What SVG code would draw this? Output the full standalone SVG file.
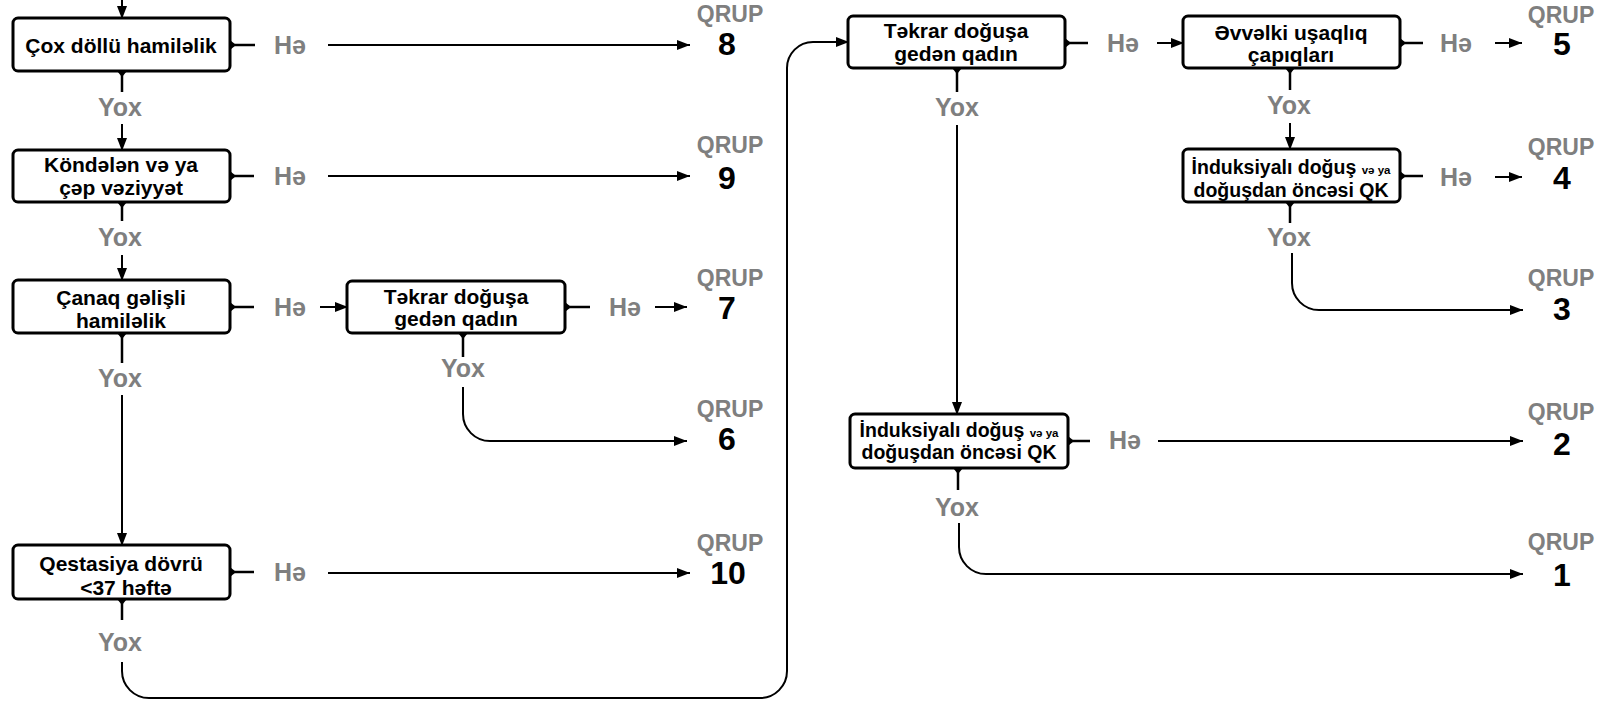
<svg xmlns="http://www.w3.org/2000/svg" width="1617" height="701" viewBox="0 0 1617 701">
<style>
.box{fill:#fff;stroke:#000;stroke-width:3}
.bt{font-family:"Liberation Sans",Arial,sans-serif;font-weight:bold;font-size:21px;fill:#000;text-anchor:middle}
.bi{font-size:19.5px}
.sm{font-size:11.5px}
.lbl{font-family:"Liberation Sans",Arial,sans-serif;font-weight:bold;font-size:25px;fill:#7f7f7f;text-anchor:middle}
.qr{font-family:"Liberation Sans",Arial,sans-serif;font-weight:bold;font-size:23px;fill:#7f7f7f;text-anchor:middle}
.num{font-family:"Liberation Sans",Arial,sans-serif;font-weight:bold;font-size:32px;fill:#000;text-anchor:middle}
.c{fill:none;stroke:#000;stroke-width:2}
.s{fill:none;stroke:#000;stroke-width:2.5}
</style>
<defs>
<marker id="ah" markerUnits="userSpaceOnUse" viewBox="0 0 13 10" refX="13" refY="5" markerWidth="13" markerHeight="10" orient="auto"><path d="M0,0 L13,5 L0,10 z" fill="#000"/></marker>
<marker id="tab" markerUnits="userSpaceOnUse" viewBox="0 0 6 10" refX="0" refY="5" markerWidth="6" markerHeight="10" orient="auto"><path d="M0,0 L6,5 L0,10 z" fill="#000"/></marker>
</defs>

<g id="connectors">
<line class="c" x1="122" y1="0" x2="122" y2="19" marker-end="url(#ah)"/>
<line class="s" x1="122" y1="71" x2="122" y2="92" marker-start="url(#tab)"/>
<line class="c" x1="122" y1="124" x2="122" y2="151" marker-end="url(#ah)"/>
<line class="s" x1="230" y1="45" x2="255" y2="45" marker-start="url(#tab)"/>
<line class="c" x1="328" y1="45" x2="690" y2="45" marker-end="url(#ah)"/>
<line class="s" x1="230" y1="176" x2="254" y2="176" marker-start="url(#tab)"/>
<line class="c" x1="328" y1="176" x2="690" y2="176" marker-end="url(#ah)"/>
<line class="s" x1="122" y1="202" x2="122" y2="221" marker-start="url(#tab)"/>
<line class="c" x1="122" y1="255" x2="122" y2="281" marker-end="url(#ah)"/>
<line class="s" x1="230" y1="307" x2="254" y2="307" marker-start="url(#tab)"/>
<line class="c" x1="320" y1="307" x2="348" y2="307" marker-end="url(#ah)"/>
<line class="s" x1="122" y1="333" x2="122" y2="363" marker-start="url(#tab)"/>
<line class="c" x1="122" y1="395" x2="122" y2="546" marker-end="url(#ah)"/>
<line class="s" x1="565" y1="307" x2="590" y2="307" marker-start="url(#tab)"/>
<line class="c" x1="655" y1="307" x2="687" y2="307" marker-end="url(#ah)"/>
<line class="s" x1="463" y1="333" x2="463" y2="357" marker-start="url(#tab)"/>
<path class="c" d="M463,387 V414 A27,27 0 0 0 490,441 H687" marker-end="url(#ah)"/>
<line class="s" x1="230" y1="572" x2="254" y2="572" marker-start="url(#tab)"/>
<line class="c" x1="328" y1="573" x2="690" y2="573" marker-end="url(#ah)"/>
<line class="s" x1="122" y1="599" x2="122" y2="620" marker-start="url(#tab)"/>
<path class="c" d="M122,662 V671 A27,27 0 0 0 149,698 H760 A27,27 0 0 0 787,671 V68 A26,26 0 0 1 813,42 H849" marker-end="url(#ah)"/>
<line class="s" x1="1065" y1="43" x2="1088" y2="43" marker-start="url(#tab)"/>
<line class="c" x1="1157" y1="43" x2="1184" y2="43" marker-end="url(#ah)"/>
<line class="s" x1="957" y1="68" x2="957" y2="92" marker-start="url(#tab)"/>
<line class="c" x1="957" y1="125" x2="957" y2="415" marker-end="url(#ah)"/>
<line class="s" x1="1400" y1="43" x2="1423" y2="43" marker-start="url(#tab)"/>
<line class="c" x1="1495" y1="43" x2="1522" y2="43" marker-end="url(#ah)"/>
<line class="s" x1="1290" y1="68" x2="1290" y2="90" marker-start="url(#tab)"/>
<line class="c" x1="1290" y1="123" x2="1290" y2="150" marker-end="url(#ah)"/>
<line class="s" x1="1400" y1="176" x2="1423" y2="176" marker-start="url(#tab)"/>
<line class="c" x1="1495" y1="177" x2="1522" y2="177" marker-end="url(#ah)"/>
<line class="s" x1="1290" y1="202" x2="1290" y2="223" marker-start="url(#tab)"/>
<path class="c" d="M1292,253 V283 A27,27 0 0 0 1319,310 H1523" marker-end="url(#ah)"/>
<line class="s" x1="1068" y1="441" x2="1090" y2="441" marker-start="url(#tab)"/>
<line class="c" x1="1158" y1="441" x2="1523" y2="441" marker-end="url(#ah)"/>
<line class="s" x1="958" y1="468" x2="958" y2="490" marker-start="url(#tab)"/>
<path class="c" d="M959,523 V547 A27,27 0 0 0 986,574 H1523" marker-end="url(#ah)"/>
</g>

<g id="labels">
<text class="lbl" x="290" y="54">Hə</text>
<text class="lbl" x="120" y="116">Yox</text>
<text class="lbl" x="290" y="185">Hə</text>
<text class="lbl" x="120" y="246">Yox</text>
<text class="lbl" x="290" y="316">Hə</text>
<text class="lbl" x="120" y="387">Yox</text>
<text class="lbl" x="625" y="316">Hə</text>
<text class="lbl" x="463" y="377">Yox</text>
<text class="lbl" x="290" y="581">Hə</text>
<text class="lbl" x="120" y="651">Yox</text>
<text class="lbl" x="1123" y="52">Hə</text>
<text class="lbl" x="957" y="116">Yox</text>
<text class="lbl" x="1456" y="52">Hə</text>
<text class="lbl" x="1289" y="114">Yox</text>
<text class="lbl" x="1456" y="186">Hə</text>
<text class="lbl" x="1289" y="246">Yox</text>
<text class="lbl" x="1125" y="449">Hə</text>
<text class="lbl" x="957" y="516">Yox</text>
</g>

<g id="n1"><rect class="box" x="13" y="18" width="217" height="53" rx="5"/><text class="bt" x="121" y="52.5">Çox döllü hamiləlik</text></g>
<g id="n2"><rect class="box" x="13" y="150" width="217" height="52" rx="5"/><text class="bt" x="121" y="172">Köndələn və ya</text><text class="bt" x="121" y="195">çəp vəziyyət</text></g>
<g id="n3"><rect class="box" x="13" y="280" width="217" height="53" rx="5"/><text class="bt" x="121" y="305">Çanaq gəlişli</text><text class="bt" x="121" y="328">hamiləlik</text></g>
<g id="n4"><rect class="box" x="13" y="545" width="217" height="54" rx="5"/><text class="bt" x="121" y="571">Qestasiya dövrü</text><text class="bt" x="126" y="595">&lt;37 həftə</text></g>
<g id="n5"><rect class="box" x="347" y="281" width="218" height="52" rx="5"/><text class="bt" x="456" y="304">Təkrar doğuşa</text><text class="bt" x="456" y="326">gedən qadın</text></g>
<g id="n6"><rect class="box" x="848" y="16" width="217" height="52" rx="5"/><text class="bt" x="956" y="38">Təkrar doğuşa</text><text class="bt" x="956" y="61">gedən qadın</text></g>
<g id="n7"><rect class="box" x="1183" y="16" width="217" height="52" rx="5"/><text class="bt" x="1291" y="40">Əvvəlki uşaqlıq</text><text class="bt" x="1291" y="62">çapıqları</text></g>
<g id="n8"><rect class="box" x="1183" y="149" width="217" height="53" rx="5"/><text class="bt bi" x="1291" y="174">İnduksiyalı doğuş <tspan class="sm">və ya</tspan></text><text class="bt bi" x="1291" y="197">doğuşdan öncəsi QK</text></g>
<g id="n9"><rect class="box" x="850" y="414" width="218" height="54" rx="5"/><text class="bt bi" x="959" y="437">İnduksiyalı doğuş <tspan class="sm">və ya</tspan></text><text class="bt bi" x="959" y="459">doğuşdan öncəsi QK</text></g>

<g id="q8"><text class="qr" x="730" y="22">QRUP</text><text class="num" x="727" y="55">8</text></g>
<g id="q9"><text class="qr" x="730" y="153">QRUP</text><text class="num" x="727" y="189">9</text></g>
<g id="q7"><text class="qr" x="730" y="286">QRUP</text><text class="num" x="727" y="319">7</text></g>
<g id="q6"><text class="qr" x="730" y="417">QRUP</text><text class="num" x="727" y="450">6</text></g>
<g id="q10"><text class="qr" x="730" y="551">QRUP</text><text class="num" x="728" y="584">10</text></g>
<g id="q5"><text class="qr" x="1561" y="23">QRUP</text><text class="num" x="1562" y="55">5</text></g>
<g id="q4"><text class="qr" x="1561" y="155">QRUP</text><text class="num" x="1562" y="189">4</text></g>
<g id="q3"><text class="qr" x="1561" y="286">QRUP</text><text class="num" x="1562" y="320">3</text></g>
<g id="q2"><text class="qr" x="1561" y="420">QRUP</text><text class="num" x="1562" y="455">2</text></g>
<g id="q1"><text class="qr" x="1561" y="550">QRUP</text><text class="num" x="1562" y="586">1</text></g>
</svg>
